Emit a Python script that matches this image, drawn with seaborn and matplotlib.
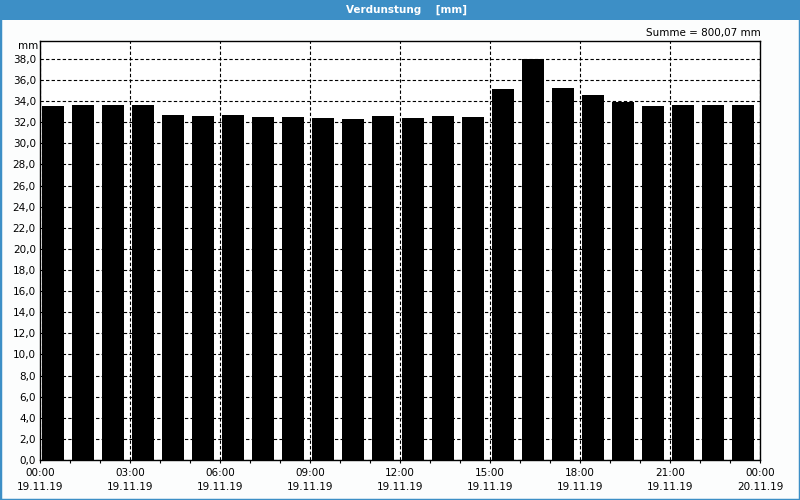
import matplotlib
matplotlib.use('Agg')
import matplotlib.pyplot as plt
import seaborn as sns
import pandas as pd
from matplotlib.patches import Rectangle

# ---- data ----
hours = list(range(24))
values = [33.55, 33.62, 33.62, 33.62, 32.66, 32.58, 32.66, 32.48,
          32.48, 32.38, 32.28, 32.58, 32.38, 32.58, 32.48, 35.12,
          37.98, 35.22, 34.56, 33.92, 33.52, 33.62, 33.62, 33.62]
tick_hours = [0, 3, 6, 9, 12, 15, 18, 21, 24]
tick_times = ["00:00", "03:00", "06:00", "09:00", "12:00", "15:00", "18:00", "21:00", "00:00"]
tick_dates = ["19.11.19"] * 8 + ["20.11.19"]
y_ticks = list(range(0, 40, 2))
title = "Verdunstung    [mm]"
sum_text = "Summe = 800,07 mm"
unit = "mm"

BLUE = "#3d8fc6"

sns.set_theme(style="white")
plt.rcParams['font.family'] = ['DejaVu Sans']
plt.rcParams['text.color'] = 'black'
plt.rcParams['xtick.color'] = 'black'
plt.rcParams['ytick.color'] = 'black'
plt.rcParams['xtick.labelcolor'] = 'black'
plt.rcParams['ytick.labelcolor'] = 'black'

fig = plt.figure(figsize=(8, 5), dpi=100, facecolor="#fcfdfd")
ax = fig.add_axes([40 / 800, 40 / 500, 720 / 800, 419 / 500])
ax.set_facecolor("white")

df = pd.DataFrame({"center": [h + 0.435 for h in hours], "value": values})
sns.barplot(data=df, x="center", y="value", native_scale=True, width=0.73,
            color="black", saturation=1, errorbar=None, linewidth=0,
            ax=ax)

ax.set_xlim(0, 24)
ax.set_ylim(0, 39.7)
ax.set_xlabel("")
ax.set_ylabel("")

ax.set_xticks(tick_hours)
ax.set_xticklabels([f"{t}\n{d}" for t, d in zip(tick_times, tick_dates)])
ax.set_xticks(hours, minor=True)
ax.set_yticks(y_ticks)
ax.set_yticklabels([f"{v:.1f}".replace(".", ",") for v in y_ticks])

ax.tick_params(axis="x", which="both", direction="out", length=2.5, width=0.8,
               color="black", labelcolor="black", labelsize=7.5, pad=3.5, bottom=True)
ax.tick_params(axis="y", which="both", length=0, labelsize=7.5, pad=3, left=True,
               labelcolor="black")
for lbl in ax.get_xticklabels():
    lbl.set_linespacing(1.45)

ax.set_axisbelow(True)
ax.yaxis.grid(True, linestyle=(0, (3, 2)), color="black", linewidth=0.8)
ax.xaxis.grid(True, which="major", linestyle=(0, (3, 2)), color="black", linewidth=0.8)
for s in ax.spines.values():
    s.set_visible(True)
    s.set_color("black")
    s.set_linewidth(1)

# title bar
fig.add_artist(Rectangle((0, 1 - 20 / 500), 1, 20 / 500, transform=fig.transFigure,
                         facecolor=BLUE, edgecolor="none", zorder=0))
fig.text(407 / 800, 1 - 10 / 500, title, color="white", weight="bold",
         ha="center", va="center", fontsize=7.5)
fig.text(761 / 800, 1 - 33 / 500, sum_text, ha="right", va="center", fontsize=7.5,
         color="black")
fig.text(38 / 800, 1 - 46 / 500, unit, ha="right", va="center", fontsize=7.5,
         color="black")

# outer border
fig.add_artist(Rectangle((0, 0), 1, 1, transform=fig.transFigure, fill=False,
                         edgecolor=BLUE, linewidth=2.5))

fig.savefig("out.png", dpi=100, facecolor=fig.get_facecolor())
